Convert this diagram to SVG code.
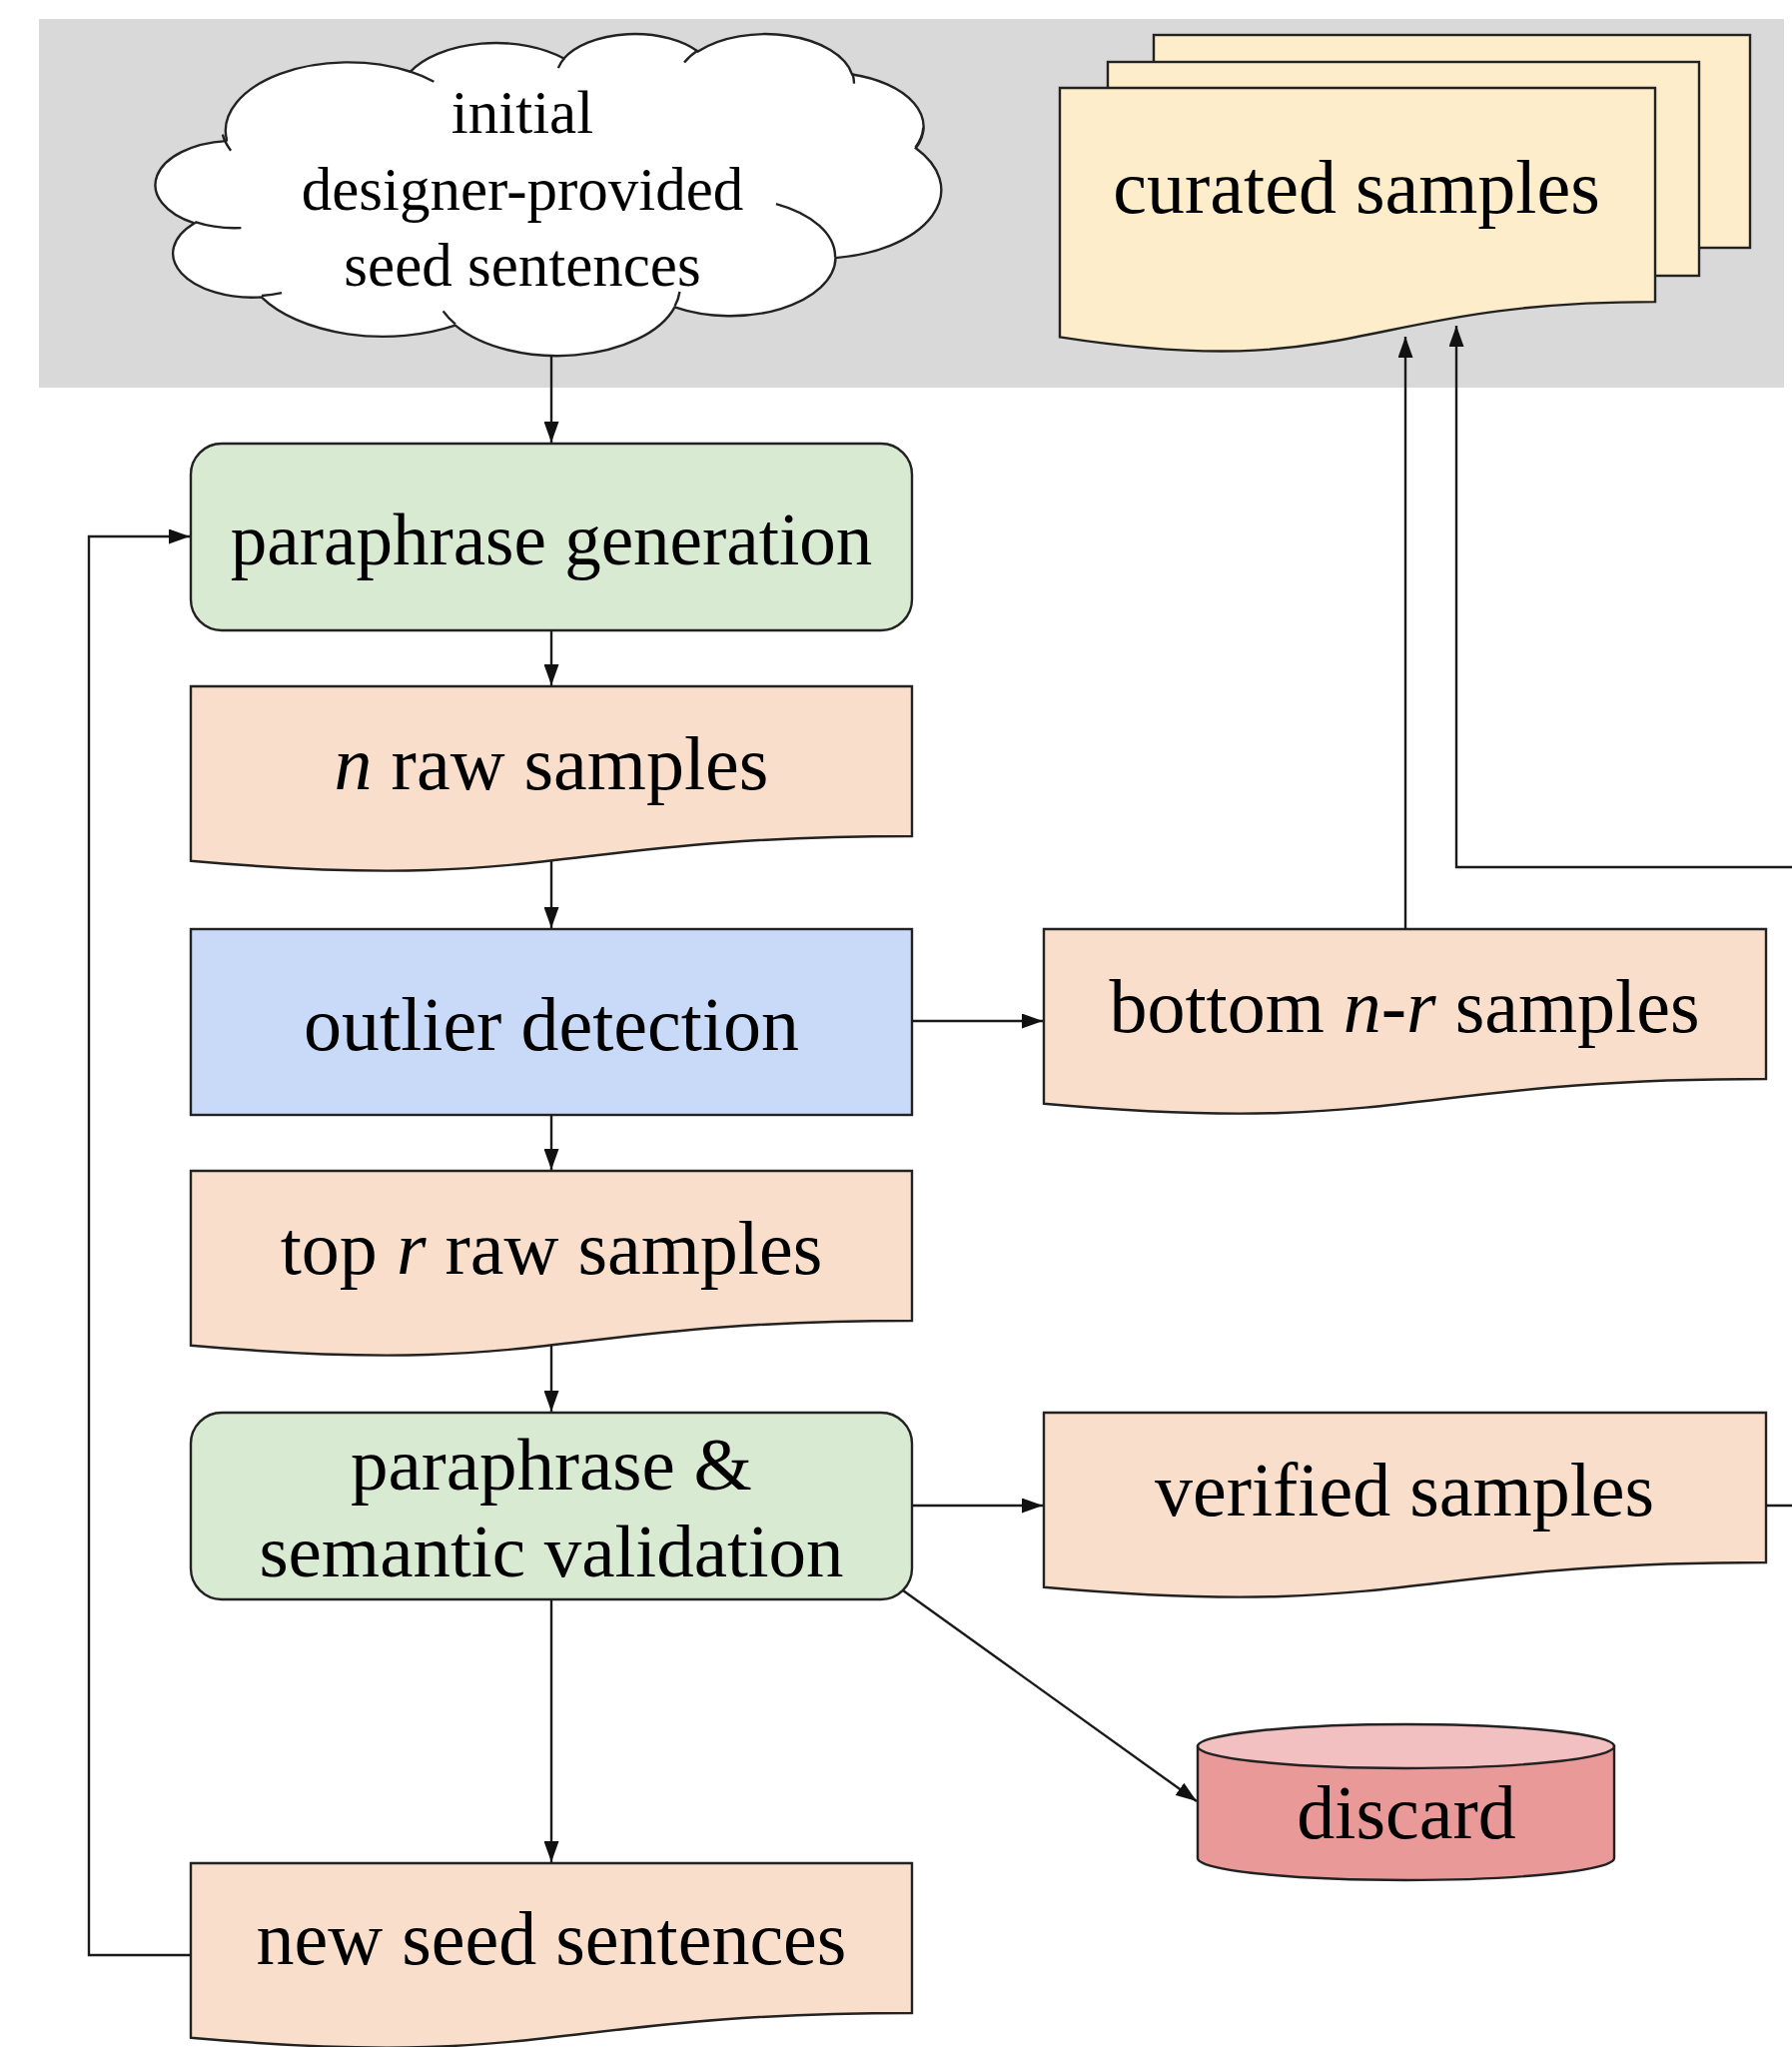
<svg xmlns="http://www.w3.org/2000/svg" width="1794" height="2049" viewBox="0 0 1794 2049">
  <style>
    .shape { stroke: #222; stroke-width: 2.4; }
    .lbl { font-family: "Liberation Serif", "Times New Roman", serif; font-size: 76px; fill: #000; text-anchor: middle; }
    .cl { font-size: 61px; }
    .conn { fill: none; stroke: #1a1a1a; stroke-width: 2.4; }
    .peach { fill: #f9dfcb; }
    .green { fill: #d9ead3; }
    .blue { fill: #c9daf8; }
    .cream { fill: #feedcb; }
    .it { font-style: italic; }
  </style>
  <defs>
    <marker id="ah" markerUnits="userSpaceOnUse" markerWidth="21" markerHeight="15" refX="21" refY="7.5" orient="auto">
      <path d="M0,0 L21,7.5 L0,15 Z" fill="#111"/>
    </marker>
  </defs>

  <rect width="1794" height="2049" fill="#fff"/>
  <!-- shaded band behind the seed input and the curated output -->
  <rect id="panel" x="39" y="19" width="1747" height="369" fill="#d9d9d9"/>

  <!-- cloud outline in 43200-unit shape space -->
  <g id="seed-cloud">
    <g transform="translate(156,33) scale(0.018194,0.0074537)">
      <path fill="#fff" stroke="#222" stroke-width="2.4" vector-effect="non-scaling-stroke"
        d="M3900,14370 A6753,9190 0 0 1 14003.7,5199.7 A5333,7267 0 0 1 22454.4,3429.5 A4365,5945 0 0 1 29831.2,2479.4 A4857,6595 0 0 1 38316.4,5574.4 A5333,7273 0 0 1 41816.4,15458.4 A6775,9220 0 0 1 37402.4,30200.3 A5785,7867 0 0 1 28553.1,36809.9 A6752,9215 0 0 1 16479.2,39264.8 A7720,10543 0 0 1 5811,35468.3 A4360,5918 0 0 1 2119.8,25546.1 A4345,5945 0 0 1 3870.4,14503.3 Z"/>
      <path fill="none" stroke="#222" stroke-width="2.4" vector-effect="non-scaling-stroke"
        d="M4693,26177 A4345,5945 0 0 1 2158.9,25379.3 M6928,34899 A4360,5918 0 0 1 5820.2,35280.2 M16478,39090 A6752,9215 0 0 1 15808.9,37347.4 M28827,34751 A6752,9215 0 0 1 28560.3,36659.2 M34129,22954 A5785,7867 0 0 1 37377.9,30088.1 M41798,15354 A5333,7273 0 0 0 42227.1,12727 M38324,5426 A5267,6775 0 0 1 38416.1,6793.9 M29078,3952 A4857,6595 0 0 1 29819.7,2340.2 M22141,4720 A4365,5945 0 0 1 22500.3,3330.1 M14000,5192 A6753,9190 0 0 1 15302,6543 M4127,15789 A6753,9190 0 0 1 3673.2,13629.4"/>
    </g>
    <text class="lbl cl" x="523" y="133">initial</text>
    <text class="lbl cl" x="523" y="210">designer-provided</text>
    <text class="lbl cl" x="523" y="286">seed sentences</text>
  </g>

  <!-- stacked document sheets -->
  <g id="curated-samples">
    <rect class="shape cream" x="1155" y="35" width="597" height="213"/>
    <rect class="shape cream" x="1109" y="62" width="592" height="214"/>
    <path class="shape cream" d="M1061,88 H1657 V302.1 C1359,302.1 1359,383.7 1061,337.4 Z"/>
    <text class="lbl" x="1358" y="213">curated samples</text>
  </g>

  <g id="paraphrase-generation">
    <rect class="shape green" x="191" y="444" width="722" height="187" rx="31"/>
    <text class="lbl" x="552" y="565" style="font-size:73px">paraphrase generation</text>
  </g>

  <g id="n-raw-samples">
    <path class="shape peach" d="M191,687 H913 V837 C552,837 552,894.1 191,861.7 Z"/>
    <text class="lbl" x="552" y="790"><tspan class="it">n</tspan> raw samples</text>
  </g>

  <g id="outlier-detection">
    <rect class="shape blue" x="191" y="930" width="722" height="186"/>
    <text class="lbl" x="552" y="1051">outlier detection</text>
  </g>

  <g id="bottom-samples">
    <path class="shape peach" d="M1045,930 H1768 V1080 C1406.5,1080 1406.5,1137.1 1045,1104.7 Z"/>
    <text class="lbl" x="1406" y="1033">bottom <tspan class="it">n-r</tspan> samples</text>
  </g>

  <g id="top-r-raw-samples">
    <path class="shape peach" d="M191,1172 H913 V1322 C552,1322 552,1379.1 191,1346.7 Z"/>
    <text class="lbl" x="552" y="1275">top <tspan class="it">r</tspan> raw samples</text>
  </g>

  <g id="semantic-validation">
    <rect class="shape green" x="191" y="1414" width="722" height="187" rx="31"/>
    <text class="lbl" x="552" y="1491" style="font-size:75px">paraphrase &amp;</text>
    <text class="lbl" x="552" y="1578" style="font-size:75px">semantic validation</text>
  </g>

  <g id="verified-samples">
    <path class="shape peach" d="M1045,1414 H1768 V1564 C1406.5,1564 1406.5,1621.1 1045,1588.7 Z"/>
    <text class="lbl" x="1406" y="1517">verified samples</text>
  </g>

  <g id="discard">
    <path class="shape" fill="#ea9999" d="M1199,1748 V1860 A208.5,22 0 0 0 1616,1860 V1748 Z"/>
    <ellipse class="shape" fill="#f2c0c1" cx="1407.5" cy="1748" rx="208.5" ry="22"/>
    <text class="lbl" x="1408" y="1840">discard</text>
  </g>

  <g id="new-seed-sentences">
    <path class="shape peach" d="M191,1865 H913 V2015 C552,2015 552,2072.1 191,2039.7 Z"/>
    <text class="lbl" x="552" y="1966">new seed sentences</text>
  </g>

  <g id="connectors">
    <path class="conn" marker-end="url(#ah)" d="M552,355 V443"/>
    <path class="conn" marker-end="url(#ah)" d="M552,631 V686"/>
    <path class="conn" marker-end="url(#ah)" d="M552,862 V929"/>
    <path class="conn" marker-end="url(#ah)" d="M913,1022 H1044"/>
    <path class="conn" marker-end="url(#ah)" d="M552,1116 V1171"/>
    <path class="conn" marker-end="url(#ah)" d="M552,1347 V1413"/>
    <path class="conn" marker-end="url(#ah)" d="M913,1507 H1044"/>
    <path class="conn" marker-end="url(#ah)" d="M552,1601 V1864"/>
    <path class="conn" marker-end="url(#ah)" d="M904,1592 L1198,1803"/>
    <path class="conn" marker-end="url(#ah)" d="M191,1957 H89 V537 H190"/>
    <path class="conn" marker-end="url(#ah)" d="M1407,930 V337"/>
    <path class="conn" marker-end="url(#ah)" d="M1768,1507 H1820 V868 H1458 V326"/>
  </g>
</svg>
